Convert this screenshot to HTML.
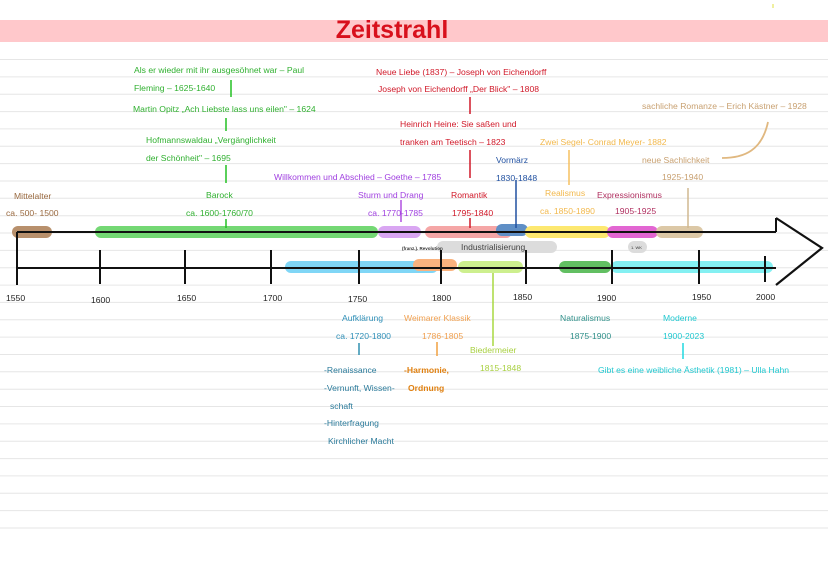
<!DOCTYPE html>
<html><head><meta charset="utf-8"><style>
body{margin:0;background:#fff}
svg{display:block}
text{font-family:"Liberation Sans",sans-serif;font-size:8.6px}
</style></head><body>
<svg width="828" height="586" viewBox="0 0 828 586" xmlns="http://www.w3.org/2000/svg">
<g stroke="#e6e6e6" stroke-width="1">
<line x1="0" x2="828" y1="59.5" y2="59.5"/><line x1="0" x2="828" y1="76.9" y2="76.9"/><line x1="0" x2="828" y1="94.2" y2="94.2"/><line x1="0" x2="828" y1="111.6" y2="111.6"/><line x1="0" x2="828" y1="128.9" y2="128.9"/><line x1="0" x2="828" y1="146.3" y2="146.3"/><line x1="0" x2="828" y1="163.6" y2="163.6"/><line x1="0" x2="828" y1="181" y2="181"/><line x1="0" x2="828" y1="198.3" y2="198.3"/><line x1="0" x2="828" y1="215.7" y2="215.7"/><line x1="0" x2="828" y1="233" y2="233"/><line x1="0" x2="828" y1="250.4" y2="250.4"/><line x1="0" x2="828" y1="267.7" y2="267.7"/><line x1="0" x2="828" y1="285.1" y2="285.1"/><line x1="0" x2="828" y1="302.4" y2="302.4"/><line x1="0" x2="828" y1="319.8" y2="319.8"/><line x1="0" x2="828" y1="337.1" y2="337.1"/><line x1="0" x2="828" y1="354.5" y2="354.5"/><line x1="0" x2="828" y1="371.8" y2="371.8"/><line x1="0" x2="828" y1="389.2" y2="389.2"/><line x1="0" x2="828" y1="406.5" y2="406.5"/><line x1="0" x2="828" y1="423.9" y2="423.9"/><line x1="0" x2="828" y1="441.2" y2="441.2"/><line x1="0" x2="828" y1="458.6" y2="458.6"/><line x1="0" x2="828" y1="475.9" y2="475.9"/><line x1="0" x2="828" y1="493.3" y2="493.3"/><line x1="0" x2="828" y1="510.6" y2="510.6"/><line x1="0" x2="828" y1="528" y2="528"/>
</g>
<rect x="0" y="20" width="828" height="22" fill="#ffc8cb"/>
<text x="392" y="38" text-anchor="middle" style="font-size:25px;font-weight:bold" fill="#d8101c">Zeitstrahl</text>
<line x1="773" y1="4" x2="773" y2="8" stroke="#e0e040"/>

<!-- upper bars -->
<g stroke-linecap="round" stroke-width="12">
<line x1="18" y1="232" x2="46" y2="232" stroke="#b8906c"/>
<line x1="101" y1="232" x2="372" y2="232" stroke="#74d874"/>
<line x1="384" y1="232" x2="415" y2="232" stroke="#d9a6f2"/>
<line x1="431" y1="232" x2="506" y2="232" stroke="#f5a6a6"/>
<line x1="502" y1="230" x2="522" y2="230" stroke="#5f8fc6"/>
<line x1="531" y1="232" x2="604" y2="232" stroke="#fde870"/>
<line x1="613" y1="232" x2="652" y2="232" stroke="#e266d2"/>
<line x1="662" y1="232" x2="697" y2="232" stroke="#dcc8a6"/>
</g>
<g stroke-linecap="round" stroke-width="12">
<line x1="443" y1="247" x2="551" y2="247" stroke="#dcdcdc"/>
<line x1="634" y1="247" x2="641" y2="247" stroke="#dcdcdc"/>
</g>
<text x="461" y="250" style="font-size:8.5px" fill="#444">Industrialisierung</text>
<text x="402" y="250" style="font-size:4.5px;font-weight:bold" fill="#333">(franz.). Revolution</text>
<text x="631" y="249" style="font-size:4px" fill="#333">1. WK</text>
<!-- lower bars -->
<g stroke-linecap="round" stroke-width="12">
<line x1="291" y1="267" x2="432" y2="267" stroke="#80d6f6"/>
<line x1="419" y1="265" x2="451" y2="265" stroke="#f9b27e"/>
<line x1="464" y1="267" x2="517" y2="267" stroke="#cdef8e"/>
<line x1="565" y1="267" x2="605" y2="267" stroke="#62bf62"/>
<line x1="617" y1="267" x2="767" y2="267" stroke="#84f0f2"/>
</g>
<!-- axis -->
<g stroke="#111" stroke-width="2" fill="none">
<line x1="17" y1="232" x2="776" y2="232"/>
<line x1="17" y1="268" x2="776" y2="268"/>
<polyline points="776,218 822,248 776,285" stroke-width="2.2"/>
<line x1="776" y1="218" x2="776" y2="232"/>
<line x1="17" y1="232" x2="17" y2="285"/>
<line x1="100" y1="250" x2="100" y2="284"/>
<line x1="185" y1="250" x2="185" y2="284"/>
<line x1="271" y1="250" x2="271" y2="284"/>
<line x1="359" y1="250" x2="359" y2="284"/>
<line x1="441" y1="250" x2="441" y2="284"/>
<line x1="526" y1="250" x2="526" y2="284"/>
<line x1="612" y1="250" x2="612" y2="284"/>
<line x1="699" y1="250" x2="699" y2="284"/>
<line x1="765" y1="256" x2="765" y2="282"/>
</g>
<g fill="#222" style="font-size:8px">
<text x="6" y="301">1550</text><text x="91" y="303">1600</text><text x="177" y="301">1650</text><text x="263" y="301">1700</text><text x="348" y="302">1750</text><text x="432" y="301">1800</text><text x="513" y="300">1850</text><text x="597" y="301">1900</text><text x="692" y="300">1950</text><text x="756" y="300">2000</text>
</g>

<!-- connectors -->
<g stroke-width="1.5">
<line x1="231" y1="80" x2="231" y2="97" stroke="#22c022"/>
<line x1="226" y1="118" x2="226" y2="131" stroke="#22c022"/>
<line x1="226" y1="165" x2="226" y2="183" stroke="#22c022"/>
<line x1="226" y1="219" x2="226" y2="228" stroke="#22c022"/>
<line x1="401" y1="200" x2="401" y2="222" stroke="#b050e0"/>
<line x1="470" y1="97" x2="470" y2="114" stroke="#d01828"/>
<line x1="470" y1="150" x2="470" y2="178" stroke="#d01828"/>
<line x1="470" y1="218" x2="470" y2="228" stroke="#d01828"/>
<line x1="516" y1="180" x2="516" y2="228" stroke="#2050a0"/>
<line x1="569" y1="150" x2="569" y2="185" stroke="#f6c060"/>
<line x1="688" y1="188" x2="688" y2="228" stroke="#d0b890"/>
<line x1="493" y1="273" x2="493" y2="346" stroke="#a8d840"/>
<line x1="359" y1="343" x2="359" y2="355" stroke="#3090b0"/>
<line x1="437" y1="342" x2="437" y2="356" stroke="#f0a040"/>
<line x1="683" y1="343" x2="683" y2="359" stroke="#20d8e0"/>
</g>
<path d="M768,122 C762,150 745,158 722,158" stroke="#e0b880" stroke-width="1.8" fill="none"/>

<!-- upper text -->
<g fill="#30b030">
<text x="134" y="73">Als er wieder mit ihr ausgesöhnet war – Paul</text>
<text x="134" y="91">Fleming – 1625-1640</text>
<text x="133" y="112">Martin Opitz „Ach Liebste lass uns eilen" – 1624</text>
<text x="146" y="143">Hofmannswaldau „Vergänglichkeit</text>
<text x="146" y="161">der Schönheit" – 1695</text>
<text x="206" y="198">Barock</text>
<text x="186" y="216">ca. 1600-1760/70</text>
</g>
<g fill="#9a6a40"><text x="14" y="199">Mittelalter</text><text x="6" y="216">ca. 500- 1500</text></g>
<g fill="#a040e0">
<text x="274" y="180">Willkommen und Abschied – Goethe – 1785</text>
<text x="358" y="198">Sturm und Drang</text>
<text x="368" y="216">ca. 1770-1785</text>
</g>
<g fill="#d01828">
<text x="376" y="75">Neue Liebe (1837) – Joseph von Eichendorff</text>
<text x="378" y="92">Joseph von Eichendorff „Der Blick" – 1808</text>
<text x="400" y="127">Heinrich Heine: Sie saßen und</text>
<text x="400" y="145">tranken am Teetisch – 1823</text>
<text x="451" y="198">Romantik</text>
<text x="452" y="216">1795-1840</text>
</g>
<g fill="#2050a0"><text x="496" y="163">Vormärz</text><text x="496" y="181">1830-1848</text></g>
<g fill="#f2b84c">
<text x="540" y="145">Zwei Segel- Conrad Meyer- 1882</text>
<text x="545" y="196">Realismus</text>
<text x="540" y="214">ca. 1850-1890</text>
</g>
<g fill="#b03060"><text x="597" y="198">Expressionismus</text><text x="615" y="214">1905-1925</text></g>
<g fill="#c8a070">
<text x="642" y="109">sachliche Romanze – Erich Kästner – 1928</text>
<text x="642" y="163">neue Sachlichkeit</text>
<text x="662" y="180">1925-1940</text>
</g>

<!-- lower text -->
<g fill="#3090b8"><text x="342" y="321">Aufklärung</text><text x="336" y="339">ca. 1720-1800</text></g>
<g fill="#f0a050"><text x="404" y="321">Weimarer Klassik</text><text x="422" y="339">1786-1805</text></g>
<g fill="#a8d040"><text x="470" y="353">Biedermeier</text><text x="480" y="371">1815-1848</text></g>
<g fill="#30908a"><text x="560" y="321">Naturalismus</text><text x="570" y="339">1875-1900</text></g>
<g fill="#20c8d0"><text x="663" y="321">Moderne</text><text x="663" y="339">1900-2023</text>
<text x="598" y="373">Gibt es eine weibliche Ästhetik (1981) – Ulla Hahn</text></g>
<g fill="#2a7a9a">
<text x="324" y="373">-Renaissance</text>
<text x="324" y="391">-Vernunft, Wissen-</text>
<text x="330" y="409">schaft</text>
<text x="324" y="426">-Hinterfragung</text>
<text x="328" y="444">Kirchlicher Macht</text>
</g>
<g fill="#e08010" style="font-weight:bold"><text x="404" y="373">-Harmonie,</text><text x="408" y="391">Ordnung</text></g>
</svg>
</body></html>
